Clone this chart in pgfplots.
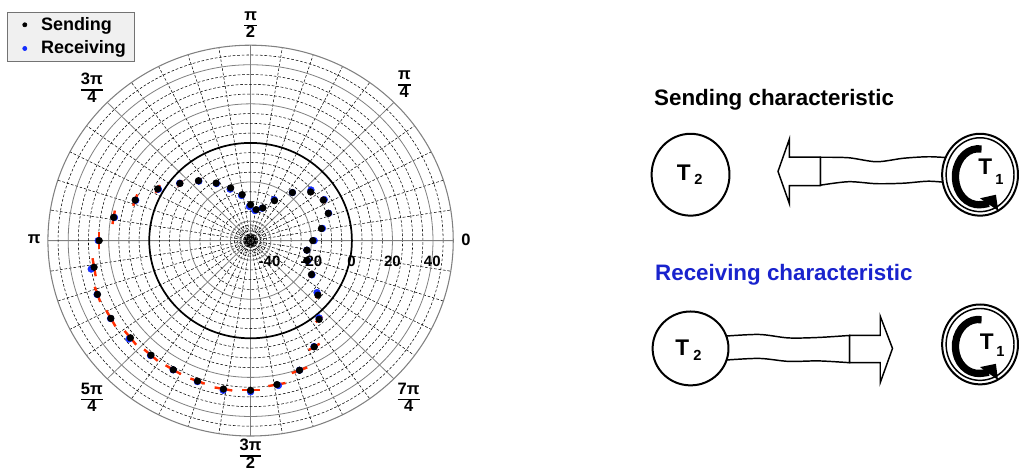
\documentclass[border=0pt]{standalone}
\usepackage{pgfplots}
\pgfplotsset{compat=1.18}
\usepackage{pgfplotstable}
\usepgfplotslibrary{polar}
\usetikzlibrary{arrows.meta}
\usepackage{fontspec}
\setmainfont{Liberation Sans}

\definecolor{errred}{RGB}{255,45,0}
\definecolor{recblue}{RGB}{20,45,255}
\definecolor{txtblue}{RGB}{25,35,205}
\definecolor{legfill}{RGB}{240,240,240}

% angle label as a stacked fraction
\newcommand{\pf}[2]{{\renewcommand{\arraystretch}{0.8}\setlength{\arrayrulewidth}{1.2pt}%
  \begin{tabular}{@{}c@{}}#1\\\hline#2\end{tabular}}}

% angle (deg), sending, receiving (value in the -50..50 radial scale), angle of receiving point, angular error
\pgfplotstableread{
ang send  recv  rang  err
0   -19.3 -18.6 0     2
10  -14.5 -14.0 10    2
20  -9.2  -9.0  20    2.5
30  -8.5  -8.0  30    2.5
40  -11.3 -10.5 41    2.5
50  -17.9 -17.9 50    2
60  -26.4 -26.0 61    2
70  -32.2 -32.5 71    2
80  -33.9 -34.5 82    2
90  -31.6 -32.5 92    2
100 -26.1 -26.5 101   2
110 -21.3 -21.8 111   2
120 -16.0 -16.3 120   2
130 -10.0 -10.3 130   2.5
140 -4.5  -4.3  140   2.5
150 2.9   2.5   150   2.5
160 10.6  10.3  160   3
170 18.6  18.2  170   3
180 24.7  25.2  180   3.5
190 28.4  30.0  190.5 3.5
200 30.4  30.6  200   3
210 29.6  29.8  210   3.5
220 27.4  28.3  220   3.5
230 26.5  26.8  230   3.5
240 26.3  26.4  240   3.5
250 26.5  26.8  250   3
260 27.1  27.8  260   3.5
270 26.6  27.4  270   3.5
280 24.8  25.4  280.5 3.5
290 20.6  20.6  290   3.5
300 12.8  12.6  300   3
310 2.6   2.0   310.5 2.5
320 -6.6  -7.8  321   2.5
330 -15.3 -15.0 330   3
340 -20.5 -20.0 340   2
350 -21.8 -21.8 350   2
}\polardata

\begin{document}
\begin{tikzpicture}
% page = 1019 x 476 px, 1 px = 0.75pt, origin top left
\begin{scope}[x=0.75pt,y=-0.75pt]
\path[use as bounding box] (0,0) rectangle (1019,476);
\end{scope}

\begin{polaraxis}[
    at={(188.25pt,-180.75pt)}, anchor=center,
    scale only axis, width=304.5pt, height=293.6pt,
    xmin=0, xmax=360, ymin=0, ymax=100,
    xtick={0,45,...,315},
    minor xtick={9,18,27,36,54,63,72,81,99,108,117,126,144,153,162,171,189,198,207,216,234,243,252,261,279,288,297,306,324,333,342,351},
    ytick={10,30,70,90},
    minor ytick={3.5,5,6.5,8,15,20,25,35,40,45,55,60,65,75,80,85,95},
    extra y ticks={2,50}, extra y tick labels={},
    extra y tick style={major grid style={draw=black, line width=1.3pt}},
    xticklabels={}, yticklabels={},
    grid=both,
    major grid style={draw=black!50, line width=0.6pt},
    minor grid style={draw=black, line width=0.4pt, dash pattern=on 2pt off 1.4pt},
    axis line style={draw=black!50, line width=0.8pt},
    major tick length=0pt, minor tick length=0pt,
    clip=false,
    reverse legend,
    legend cell align=left,
    legend style={at={(-0.101,1.0857)}, anchor=north west, draw=black!55, fill=legfill,
        font=\fontsize{13.5}{15}\selectfont\bfseries, inner xsep=4pt, row sep=2.5pt},
    legend image code/.code={\path (0pt,0pt) (12pt,0pt); \draw[#1, mark size=1.6pt] plot coordinates {(9pt,0pt)};},
]
% angular uncertainty: short red bars along the tangent
\addplot[forget plot, scatter, only marks, mark=|,
    scatter/use mapped color={draw=errred, fill=errred},
    mark options={line width=1.8pt},
    visualization depends on={\thisrow{ang} \as \myang},
    visualization depends on={(\thisrow{send}+50)*\thisrow{err}*0.025 \as \mylen},
    scatter/@pre marker code/.append style={/tikz/mark size=\mylen, /tikz/rotate=\myang}]
    table[x=ang, y expr=\thisrow{send}+50] {\polardata};
\addplot[only marks, mark=*, mark size=2.5pt, color=recblue]
    table[x=rang, y expr=\thisrow{recv}+50] {\polardata};
\addlegendentry{\hspace{7pt}Receiving}
\addplot[only marks, mark=*, mark size=2.5pt, color=black]
    table[x=ang, y expr=\thisrow{send}+50] {\polardata};
\addlegendentry{\hspace{7pt}Sending}
\addplot[forget plot, only marks, mark=*, mark size=1.2pt, color=black] coordinates {(0,0)};
\end{polaraxis}

\begin{scope}[x=0.75pt,y=-0.75pt]
% angle labels
\begin{scope}[every node/.style={font=\fontsize{12.4}{14}\selectfont\bfseries, inner sep=0pt}]
\node at (466.7,240.7) {0};
\node at (34.3,239.5) {π};
\node at (251,26) {\pf{π}{2}};
\node at (405,85.5) {\pf{π}{4}};
\node at (92,90) {\pf{3π}{4}};
\node at (92,400) {\pf{5π}{4}};
\node at (409.3,400) {\pf{7π}{4}};
\node at (251,457) {\pf{3π}{2}};
\end{scope}
% radial labels
\begin{scope}[every node/.style={font=\fontsize{11.25}{13}\selectfont\bfseries, inner sep=0pt}]
\node at (270,262) {-40};
\node at (312,262) {-20};
\node at (352,262) {0};
\node at (393,262) {20};
\node at (433,262) {40};
\end{scope}

% ---- sending characteristic ----
\node[anchor=west, inner sep=0pt, font=\fontsize{16.8}{19}\selectfont\bfseries] at (655,100) {Sending characteristic};
\draw[line width=1.1pt, fill=white] plot[smooth] coordinates {(821.7,157.5) (850,158) (878,162) (905,158.5) (930,157) (950,158)}
   -- plot[smooth] coordinates {(950,183) (930,181.5) (905,183.5) (878,184) (850,182) (821.7,185.5)} -- cycle;
\draw[line width=1.1pt, fill=white] (779.3,171.7) -- (790.7,139.3) -- (790.7,157.3) -- (821.7,157.3)
   -- (821.7,186) -- (790.7,186) -- (790.7,204) -- cycle;
\draw[line width=1.5pt, fill=white] (691.7,175) ellipse [x radius=39, y radius=41];
\node[inner sep=0pt, font=\fontsize{17}{19}\selectfont\bfseries] at (685,173) {T};
\node[inner sep=0pt, font=\fontsize{11}{12}\selectfont\bfseries] at (699.5,180) {2};
\draw[line width=1.5pt, fill=white] (981.7,175) ellipse [x radius=38, y radius=41];
\draw[line width=1.1pt] (981.7,175) ellipse [x radius=34, y radius=37];
\draw[line width=5.5pt, -{Triangle[length=9pt,width=16pt]}] (980,177) ++(-82:23 and 28)
   arc[start angle=-82, end angle=-320, x radius=23, y radius=28];
\node[inner sep=0pt, font=\fontsize{17}{19}\selectfont\bfseries] at (987,166.5) {T};
\node[inner sep=0pt, font=\fontsize{11}{12}\selectfont\bfseries] at (1001,180) {1};

% ---- receiving characteristic ----
\node[anchor=west, inner sep=0pt, text=txtblue, font=\fontsize{16.8}{19}\selectfont\bfseries] at (656,275) {Receiving characteristic};
\draw[line width=1.1pt, fill=white] plot[smooth] coordinates {(722,337) (760,335) (790,338.5) (820,338) (851,336)}
   -- plot[smooth] coordinates {(851,363.3) (820,361.5) (790,362) (760,359) (722,361)} -- cycle;
\draw[line width=1.1pt, fill=white] (851,336) -- (881.7,336) -- (881.7,316.7) -- (894,349)
   -- (881.7,383.3) -- (881.7,363.3) -- (851,363.3) -- cycle;
\draw[line width=1.5pt, fill=white] (691.7,349) ellipse [x radius=38, y radius=37];
\node[inner sep=0pt, font=\fontsize{17}{19}\selectfont\bfseries] at (683.5,348.5) {T};
\node[inner sep=0pt, font=\fontsize{11}{12}\selectfont\bfseries] at (698.5,355.5) {2};
\draw[line width=1.5pt, fill=white] (981.7,345) ellipse [x radius=38, y radius=40];
\draw[line width=1.1pt] (981.7,345) ellipse [x radius=34, y radius=36];
\draw[line width=5.5pt, -{Triangle[length=9pt,width=16pt]}] (980,347) ++(-82:23 and 27)
   arc[start angle=-82, end angle=-320, x radius=23, y radius=27];
\node[inner sep=0pt, font=\fontsize{17}{19}\selectfont\bfseries] at (988.5,342.5) {T};
\node[inner sep=0pt, font=\fontsize{11}{12}\selectfont\bfseries] at (1002,352.5) {1};
\end{scope}
\end{tikzpicture}
\end{document}
